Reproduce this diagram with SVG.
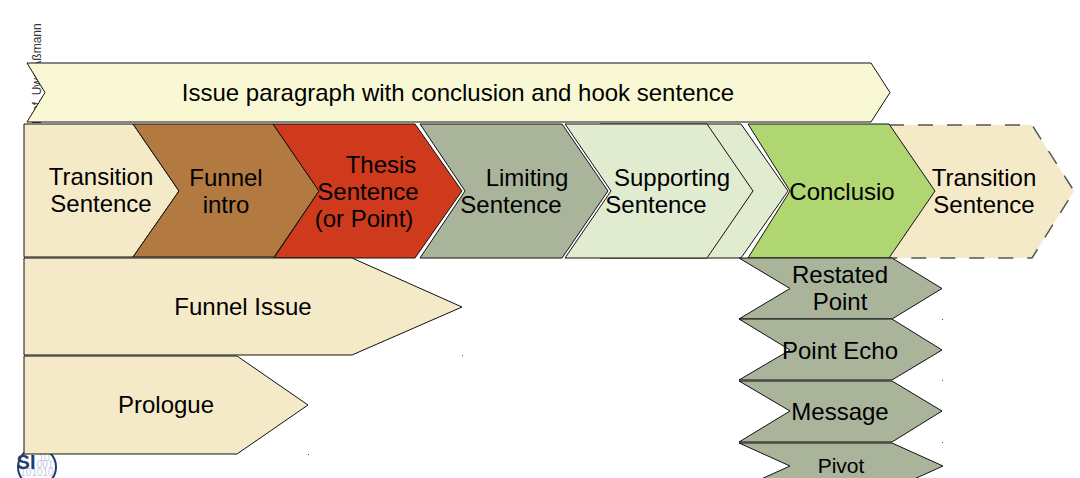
<svg xmlns="http://www.w3.org/2000/svg" width="1080" height="478" viewBox="0 0 1080 478">
<style>
text{font-family:"Liberation Sans",Arial,sans-serif;fill:#000;font-size:24px;text-anchor:middle}
.s{stroke:#111;stroke-width:1;stroke-linejoin:miter}
.cream{fill:#f5eac8}.tan{fill:#b27a41}.red{fill:#cf3a1c}.sage{fill:#a9b49b}.pale{fill:#e0ebd0}.green{fill:#b0d672}.bar{fill:#f9f8d4}
.dot{fill:#444}
</style>
<rect width="1080" height="478" fill="#fff"/>
<g id="footer">
<text transform="translate(41,64) rotate(-90)" style="font-size:12px;text-anchor:start;fill:#333" x="-60">Prof. Uwe Aßmann</text>
<circle cx="37" cy="467" r="19" fill="#fff" stroke="#1f3d70" stroke-width="2"/>
<g style="fill:#c9d0e8">
<text x="44" y="461" style="font-size:10px;fill:#c4cbe6">10</text>
<text x="45" y="468" style="font-size:10px;fill:#c4cbe6">001</text>
<text x="37" y="476" style="font-size:10px;fill:#c4cbe6">101010</text>
</g>
<text x="26" y="469" style="font-size:20px;font-weight:bold;fill:#1f3d70">SI</text>
</g>
<g id="connectors"></g>
<g id="issue-paragraph"><polygon class="bar s" points="27,63 871,63 890,92.500 871,122 27,122 45,92.500"/><text x="458" y="101">Issue paragraph with conclusion and hook sentence</text></g>
<g id="transition-right"><polygon class="cream" points="889,125 1032,125 1074,191 1032,258 889,258 935,191"/><polyline fill="none" stroke="#555" stroke-width="1.500" stroke-dasharray="15 14" points="889,125 1032,125 1074,191 1032,258 889,258"/><text x="984" y="186">Transition</text><text x="984" y="213">Sentence</text></g>
<g id="transition-left"><polygon class="cream s" points="24,124 133,124 179,191 133,257 24,257"/><text x="101" y="185">Transition</text><text x="101" y="212">Sentence</text></g>
<g id="funnel-intro"><polygon class="tan s" points="133,124 273,124 319,191 274,257 133,257 179,191"/><text x="226" y="186">Funnel</text><text x="226" y="213">intro</text></g>
<g id="thesis"><polygon class="red s" points="273,124 415,124 462,191 415,258 274,258 319,191"/><text x="381" y="173">Thesis</text><text x="368" y="200">Sentence</text><text x="364" y="227">(or Point)</text></g>
<g id="limiting"><polygon class="sage s" points="420,124 562,124 608,191 562,258 420,258 465,191"/><text x="527" y="186">Limiting</text><text x="511" y="213">Sentence</text></g>
<g id="supporting-back"><polygon class="pale s" points="600,124 741,124 788,191 741,258 600,258 646,191"/></g>
<g id="supporting"><polygon class="pale s" points="565,124 707,124 753,191 707,258 565,258 611,191"/><text x="672" y="186">Supporting</text><text x="656" y="213">Sentence</text></g>
<g id="conclusion"><polygon class="green s" points="748,124 889,124 935,191 889,258 748,258 790,191"/><text x="842" y="200">Conclusio</text></g>
<g id="funnel-issue"><polygon class="cream s" points="24,258 352,258 462,307 352,355 24,355"/><text x="243" y="315">Funnel Issue</text></g>
<g id="prologue"><polygon class="cream s" points="24,356 237,356 308,405 237,454 24,454"/><text x="166" y="413">Prologue</text></g>
<g id="restated"><polygon class="sage s" points="739,258 892,258 942,288.500 892,319 739,319 790,288.500"/><text x="840" y="283">Restated</text><text x="840" y="310">Point</text></g>
<g id="point-echo"><polygon class="sage s" points="739,319 892,319 942,350 892,380 739,380 790,350"/><text x="840" y="359">Point Echo</text></g>
<g id="message"><polygon class="sage s" points="739,381 892,381 942,411 892,442 739,442 790,411"/><text x="840" y="420">Message</text></g>
<g id="pivot"><polygon class="sage s" points="739,443 892,443 943,466 892,489 739,489 790,466"/><text x="841" y="473" style="font-size:21px">Pivot</text></g>
<g id="specks"><rect class="dot" x="462" y="355" width="1" height="1"/><rect class="dot" x="308" y="454" width="1" height="1"/><rect class="dot" x="942" y="319" width="1" height="1"/><rect class="dot" x="942" y="380" width="1" height="1"/><rect class="dot" x="942" y="442" width="1" height="1"/></g>
</svg>
